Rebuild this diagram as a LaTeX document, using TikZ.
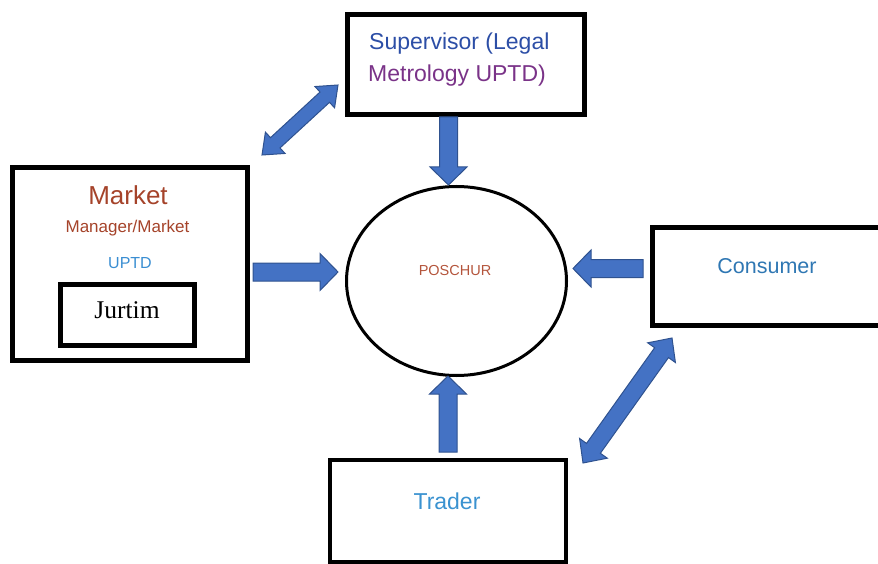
\documentclass[tikz,border=0pt]{standalone}
\usepackage{fontspec}
\setmainfont{Liberation Sans}
\newfontfamily\jurfont{Liberation Serif}
\usepackage{tikz}
\usetikzlibrary{calc,shapes.geometric}
\definecolor{arrowfill}{HTML}{4472C4}
\definecolor{arrowline}{HTML}{2F528F}
\definecolor{supblue}{HTML}{2C4EA6}
\definecolor{metpurple}{HTML}{7A3388}
\definecolor{mktbrown}{HTML}{A5432A}
\definecolor{uptdblue}{HTML}{3A8ED2}
\definecolor{posred}{HTML}{B4553C}
\definecolor{conblue}{HTML}{2F77B3}
\definecolor{trdblue}{HTML}{3A92D0}
\newcommand{\blockarrow}[2]{%
 \coordinate (ba-s) at (#1);
 \coordinate (ba-e) at (#2);
 \coordinate (ba-h) at ($(ba-e)!18pt!(ba-s)$);
 \filldraw[barrow] ($(ba-s)!9pt!90:(ba-e)$) -- ($(ba-h)!9pt!90:(ba-e)$) -- ($(ba-h)!18.5pt!90:(ba-e)$) -- (ba-e)
  -- ($(ba-h)!18.5pt!-90:(ba-e)$) -- ($(ba-h)!9pt!-90:(ba-e)$) -- ($(ba-s)!9pt!-90:(ba-e)$) -- cycle;}
\newcommand{\dblarrow}[4]{%
 \coordinate (da-a) at (#1);
 \coordinate (da-b) at (#2);
 \coordinate (da-ha) at ($(da-a)!18pt!(da-b)$);
 \coordinate (da-hb) at ($(da-b)!18pt!(da-a)$);
 \filldraw[barrow] (da-a) -- ($(da-ha)!#4!90:(da-b)$) -- ($(da-ha)!#3!90:(da-b)$) -- ($(da-hb)!#3!-90:(da-a)$)
  -- ($(da-hb)!#4!-90:(da-a)$) -- (da-b) -- ($(da-hb)!#4!90:(da-a)$) -- ($(da-hb)!#3!90:(da-a)$)
  -- ($(da-ha)!#3!-90:(da-b)$) -- ($(da-ha)!#4!-90:(da-b)$) -- cycle;}

\begin{document}
\begin{tikzpicture}[x=1pt, y=-1pt,
 box/.style={draw, rectangle, line width=5pt, inner sep=0pt},
 lbl/.style={inner sep=0pt, anchor=base},
 barrow/.style={fill=arrowfill, draw=arrowline, line width=1pt, line join=miter}]
\useasboundingbox (0,0) rectangle (878,564);
\clip (0,0) rectangle (878,564);
\node[box, minimum width=237pt, minimum height=100pt] (sup) at (466,64.5) {};
\node[lbl, anchor=base west, text=supblue] (sup_1) at (369,50) {\fontsize{23}{27}\selectfont Supervisor (Legal};
\node[lbl, anchor=base west, text=metpurple] (sup_2) at (368,82) {\fontsize{23}{27}\selectfont Metrology UPTD)};
\node[box, minimum width=235pt, minimum height=193pt] (mkt) at (130,264) {};
\node[lbl, text=mktbrown] (mkt_1) at (128,205) {\fontsize{26}{30}\selectfont Market};
\node[lbl, text=mktbrown] (mkt_2) at (127.5,233) {\fontsize{17}{20}\selectfont Manager/Market};
\node[lbl, text=uptdblue] (mkt_3) at (130,268) {\fontsize{16}{19}\selectfont UPTD};
\node[box, minimum width=134pt, minimum height=61pt] (jur) at (127.5,315) {};
\node[lbl] (jur_1) at (127,318) {\fontsize{25.5}{29}\selectfont\jurfont Jurtim};
\node[draw, ellipse, line width=3pt, inner sep=0pt, minimum width=220pt, minimum height=189pt] (pos) at (456.5,281) {};
\node[lbl, text=posred] (pos_1) at (455,275) {\fontsize{14.5}{17}\selectfont POSCHUR};
\node[box, minimum width=240pt, minimum height=98pt] (con) at (772.5,276.5) {};
\node[lbl, text=conblue] (con_1) at (767,273) {\fontsize{21.5}{25}\selectfont Consumer};
\node[box, line width=4pt, minimum width=236pt, minimum height=102pt] (trd) at (448,511) {};
\node[lbl, text=trdblue] (trd_1) at (447,509) {\fontsize{23}{27}\selectfont Trader};
% arrows into POSCHUR
\blockarrow{$(sup.south)+(-17.5,0)$}{$(pos.north)+(-8,0)$}
\blockarrow{$(mkt.east)+(3,8)$}{$(pos.west)+(-7,-9)$}
\blockarrow{$(con.west)+(-7,-8)$}{$(pos.east)+(5,-12.5)$}
\blockarrow{$(trd.north)+(0,-6)$}{$(pos.south)+(-8.5,-1)$}
% two-way arrows
\dblarrow{$(mkt.north east)+(12,-10)$}{$(sup.south west)+(-7,-32)$}{7pt}{14.5pt}
\dblarrow{$(trd.north east)+(15,5)$}{$(con.south west)+(22,10)$}{8.5pt}{17pt}
\end{tikzpicture}
\end{document}
